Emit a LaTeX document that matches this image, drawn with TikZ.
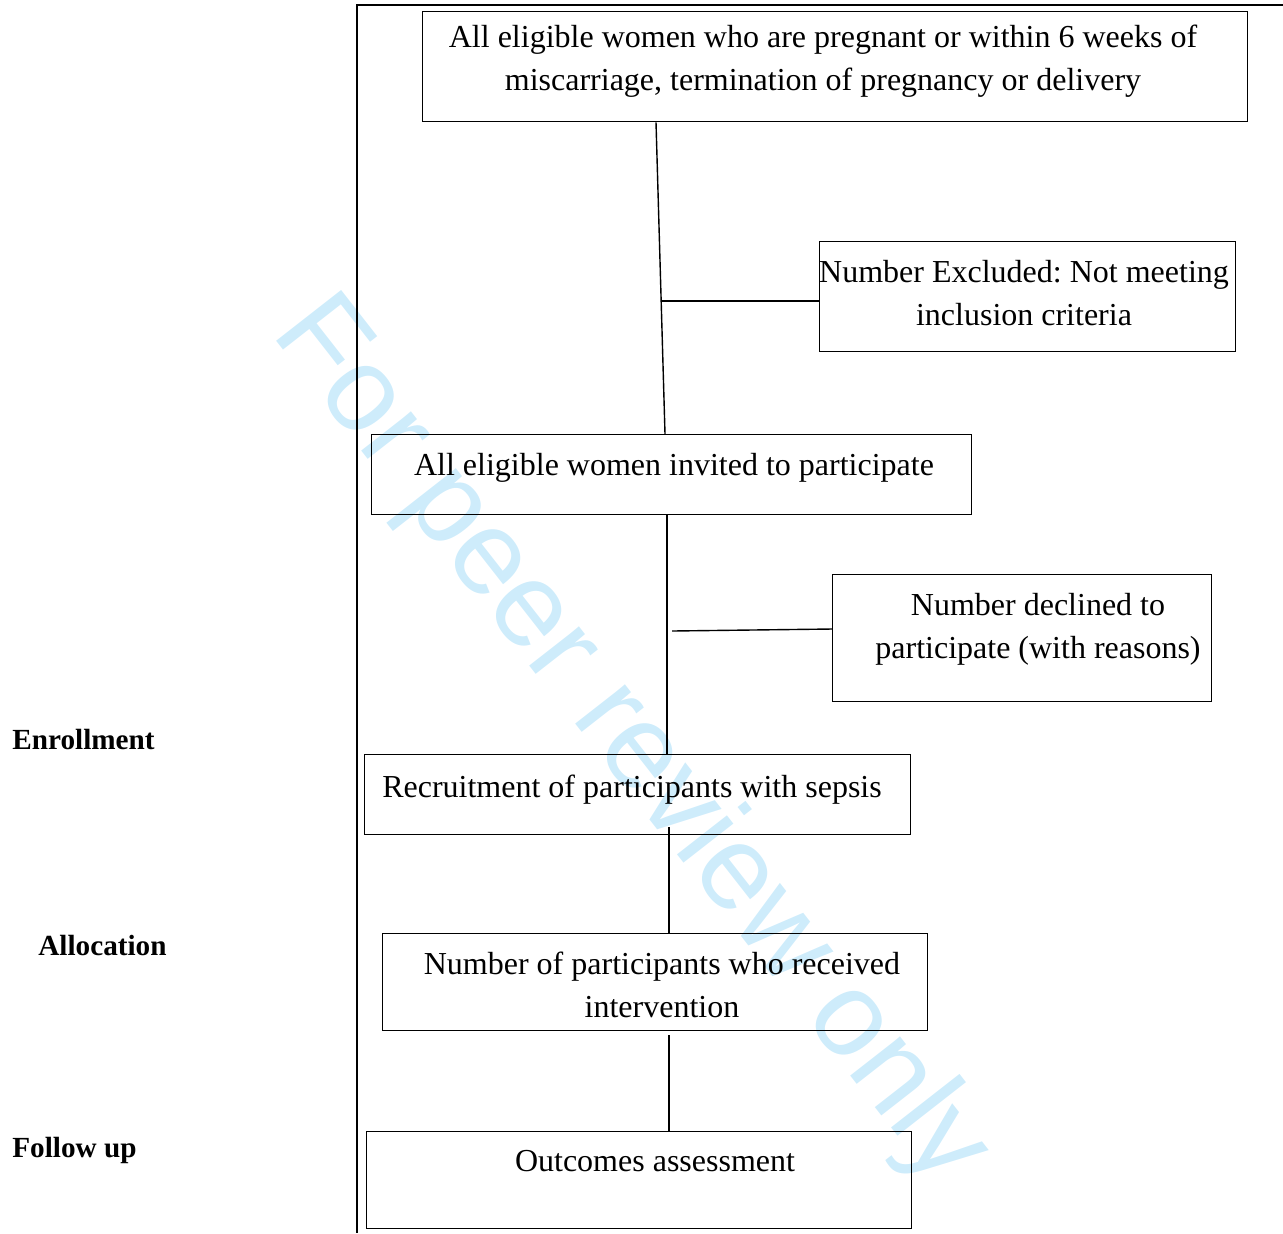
\documentclass[tikz,border=0pt]{standalone}
\usepackage{fontspec}
\setmainfont{Liberation Serif}
\newfontfamily\wmfont{Liberation Sans}
\usetikzlibrary{positioning}
\definecolor{wmblue}{RGB}{206,236,251}
\frenchspacing

\begin{document}
\begin{tikzpicture}[x=0.5pt,y=-0.5pt,
  box/.style={draw,line width=0.7pt,inner sep=0pt,anchor=north west},
  txt/.style={align=center,inner sep=0pt,anchor=north,font=\fontsize{16}{21.3}\selectfont},
  stage/.style={inner sep=0pt,anchor=base west,font=\fontsize{14.6}{18}\selectfont\bfseries},
  wm/.style={inner sep=0pt,anchor=base,rotate=-52,text=wmblue,font=\wmfont\fontsize{60}{60}\selectfont},
  link/.style={line width=0.7pt}]
  \useasboundingbox (0,0) rectangle (1283,1233);
  \node[wm] (wmark) at (605,762) {For peer review only};
  \draw[line width=1.1pt] (1283,5) -- (357,5) -- (357,1233);
  % boxes
  \node[box,minimum width=412.5pt,minimum height=55pt] (b1) at (422,11) {};
  \node[box,minimum width=208pt,minimum height=55pt] (b2) at (819,241) {};
  \node[box,minimum width=300pt,minimum height=40pt] (b3) at (371,434) {};
  \node[box,minimum width=189.5pt,minimum height=63.5pt] (b4) at (832,574) {};
  \node[box,minimum width=273pt,minimum height=40pt] (b5) at (364,754) {};
  \node[box,minimum width=272.5pt,minimum height=48.5pt] (b6) at (382,933) {};
  \node[box,minimum width=272.5pt,minimum height=48.5pt] (b7) at (366,1131) {};
  % texts
  \node[txt] (t1) at (823,25) {All eligible women who are pregnant or within 6 weeks of\\miscarriage, termination of pregnancy or delivery};
  \node[txt] (t2) at (1024,260) {Number Excluded: Not meeting\\inclusion criteria};
  \node[txt] (t3) at (674,453) {All eligible women invited to participate};
  \node[txt] (t4) at (1038,593) {Number declined to\\participate (with reasons)};
  \node[txt] (t5) at (632,775) {Recruitment of participants with sepsis};
  \node[txt] (t6) at (662,952) {Number of participants who received\\intervention};
  \node[txt] (t7) at (655,1150) {Outcomes assessment};
  \node[stage] (enrol) at (12,749) {Enrollment};
  \node[stage] (alloc) at (38,955) {Allocation};
  \node[stage] (follow) at (12,1157) {Follow up};
  % connectors
  \coordinate (j1) at (662,301);
  \coordinate (j2) at (672,631);
  \draw[link] (b1.south -| 656,0) -- (b3.north -| 665,0);
  \draw[link] (j1) -- (b2.west |- j1);
  \draw[link] (b3.south -| 667,0) -- (b5.north -| 667,0);
  \draw[link] (j2) -- (b4.west |- 0,629);
  \draw[link] (b5.south -| 669,0) ++(0,-8) -- (b6.north -| 669,0);
  \draw[link] (b6.south -| 669,0) ++(0,4) -- (b7.north -| 669,0);
\end{tikzpicture}
\end{document}
